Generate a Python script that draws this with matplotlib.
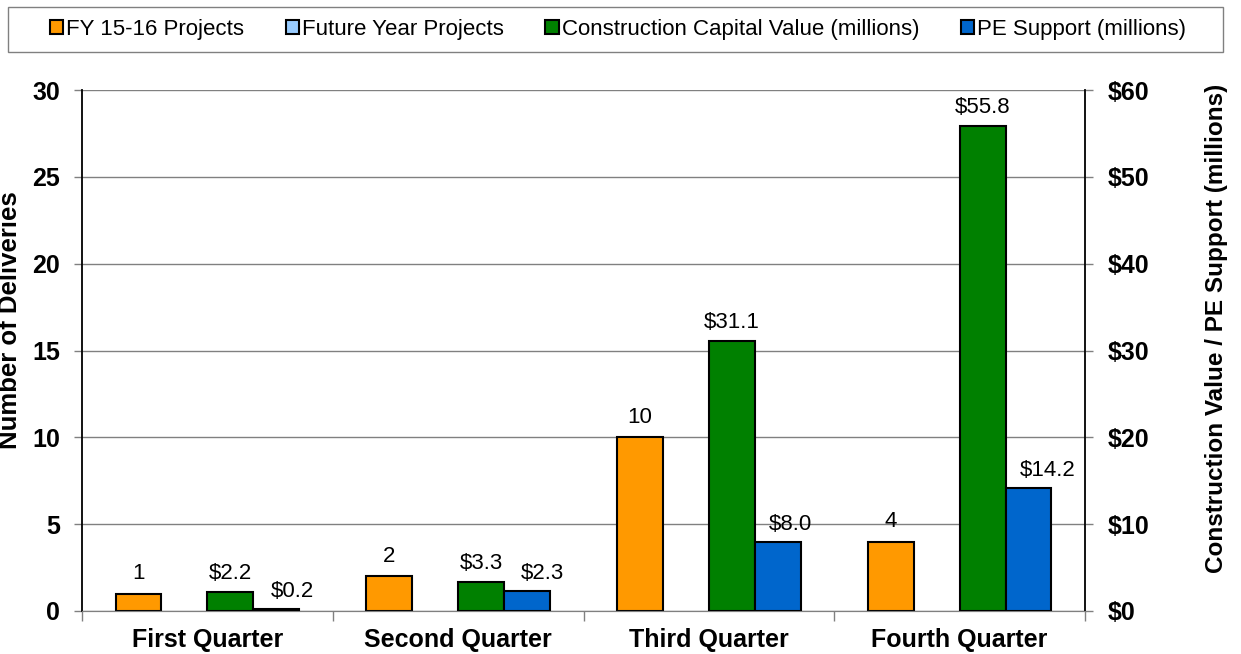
import numpy as np
import matplotlib.pyplot as plt
from matplotlib.patches import Patch, Rectangle

# -----------------------------
# Data
# -----------------------------
quarters = ["First Quarter", "Second Quarter", "Third Quarter", "Fourth Quarter"]
fy_projects = [1, 2, 10, 4]
future_projects = [0, 0, 0, 0]
construction_value = [2.2, 3.3, 31.1, 55.8]
pe_support = [0.2, 2.3, 8.0, 14.2]

series_names = ["FY 15-16 Projects", "Future Year Projects",
                "Construction Capital Value (millions)", "PE Support (millions)"]
colors = ["#FF9900", "#99CCFF", "#008000", "#0066CC"]

plt.rcParams["font.family"] = ["Liberation Sans", "DejaVu Sans"]

W, H = 1241, 654
fig = plt.figure(figsize=(W / 100, H / 100), dpi=100)
ax = fig.add_axes([82 / W, 1 - 611 / H, (1085 - 82) / W, (611 - 90) / H])
ax2 = ax.twinx()

x = np.arange(len(quarters))
w = 0.183
edge = dict(edgecolor="black", linewidth=1.5, zorder=3)

ax.bar(x - 1.5 * w, fy_projects, w, color=colors[0], **edge)
ax.bar(x - 0.5 * w, future_projects, w, color=colors[1], edgecolor="none", zorder=3)
ax2.bar(x + 0.5 * w, construction_value, w, color=colors[2], **edge)
ax2.bar(x + 1.5 * w, pe_support, w, color=colors[3], **edge)

# axes limits / ticks
ax.set_xlim(-0.5, 3.5)
ax.set_ylim(0, 30)
ax2.set_ylim(0, 60)
ax.set_yticks(range(0, 31, 5))
ax2.set_yticks(range(0, 61, 10))
ax2.set_yticklabels([f"${v}" for v in range(0, 61, 10)])

ax.set_xticks(x)
ax.set_xticklabels(quarters, fontsize=18, fontweight="bold")
ax.set_xticks(np.arange(-0.5, 4, 1), minor=True)
ax.tick_params(axis="x", which="major", length=0, pad=12)
ax.tick_params(axis="x", which="minor", length=7, color="#808080", width=1)

for a in (ax, ax2):
    a.tick_params(axis="y", direction="out", length=6, width=1, color="#808080",
                  labelsize=18, pad=10)
    for lab in a.get_yticklabels():
        lab.set_fontweight("bold")
    a.spines["top"].set_visible(False)
    a.spines["bottom"].set_color("#808080")

ax.spines["left"].set_color("black")
ax.spines["left"].set_linewidth(1.3)
ax.spines["right"].set_visible(False)
ax2.spines["left"].set_visible(False)
ax2.spines["right"].set_color("black")
ax2.spines["right"].set_linewidth(1.3)

ax.set_axisbelow(True)
ax.grid(axis="y", color="#808080", linewidth=1)
ax2.patch.set_visible(False)

# data labels
lab_kw = dict(textcoords="offset points", ha="center", va="bottom", fontsize=16)
for i, v in enumerate(fy_projects):
    ax.annotate(f"{v}", (x[i] - 1.5 * w, v), xytext=(0, 7), **lab_kw)
for i, v in enumerate(construction_value):
    ax2.annotate(f"${v:.1f}", (x[i] + 0.5 * w, v), xytext=(0, 6), **lab_kw)
pe_shift = [12, 11.5, 9.5, 13.5]
for i, v in enumerate(pe_support):
    ax2.annotate(f"${v:.1f}", (x[i] + 1.5 * w, v), xytext=(pe_shift[i], 5), **lab_kw)

# axis titles
fig.text(10 / W, 1 - 320 / H, "Number of Deliveries", rotation=90, ha="center",
         va="center", fontsize=18.5, fontweight="bold")
fig.text(1217 / W, 1 - 328 / H, "Construction Value / PE Support (millions)",
         rotation=90, ha="center", va="center", fontsize=17.5, fontweight="bold")

# legend with its own box
fig.patches.append(Rectangle((8 / W, 1 - 52 / H), (1223 - 8) / W, 45 / H,
                             transform=fig.transFigure, fill=False,
                             edgecolor="#808080", linewidth=1))
handles = [Patch(facecolor=c, edgecolor="black", linewidth=1.5) for c in colors]
fig.legend(handles, series_names, loc="center", bbox_to_anchor=(618 / W, 1 - 29.5 / H),
           ncol=4, frameon=False, fontsize=16, handlelength=0.6, handleheight=0.6,
           handletextpad=0.15, columnspacing=1.85, borderpad=0)

fig.savefig("out.png", dpi=100)
